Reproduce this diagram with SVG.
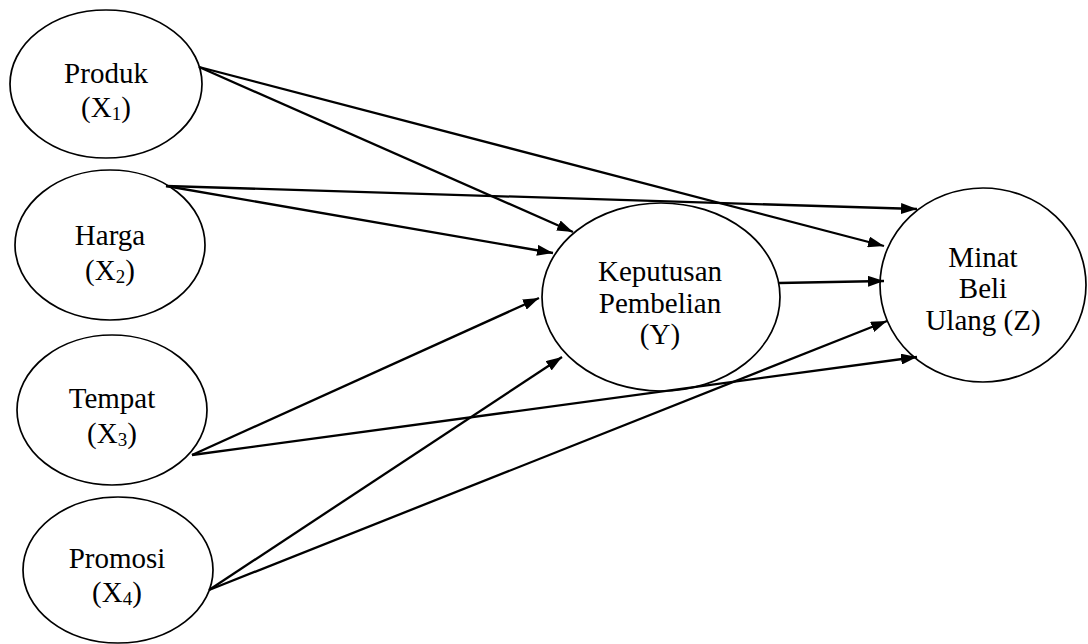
<svg xmlns="http://www.w3.org/2000/svg" width="1088" height="644" viewBox="0 0 1088 644">
<style>
.node ellipse{fill:#fff;stroke:#000;stroke-width:1.7}
.node text{font-family:"Liberation Serif","Times New Roman",serif;font-size:29px;fill:#000;text-anchor:middle}
.sub{font-size:19px}
#connectors line{stroke:#000;stroke-width:2.3;marker-end:url(#arr)}
</style>
<defs>
<marker id="arr" viewBox="0 0 16 11" refX="16" refY="5.5" markerWidth="16" markerHeight="11" markerUnits="userSpaceOnUse" orient="auto">
<path d="M0,0 L16,5.5 L0,11 Z" fill="#000"/>
</marker>
</defs>
<rect width="1088" height="644" fill="#fff"/>
<g id="n-produk" class="node">
<ellipse cx="106" cy="84" rx="96" ry="74"/>
<text x="106" y="83">Produk</text>
<text x="106" y="117">(X<tspan class="sub" dy="3">1</tspan><tspan dy="-3">)</tspan></text>
</g>
<g id="n-harga" class="node">
<ellipse cx="110" cy="245" rx="95" ry="75"/>
<text x="110" y="245">Harga</text>
<text x="110" y="280">(X<tspan class="sub" dy="3">2</tspan><tspan dy="-3">)</tspan></text>
</g>
<g id="n-tempat" class="node">
<ellipse cx="112" cy="410" rx="95" ry="75"/>
<text x="112" y="408">Tempat</text>
<text x="112" y="443">(X<tspan class="sub" dy="3">3</tspan><tspan dy="-3">)</tspan></text>
</g>
<g id="n-promosi" class="node">
<ellipse cx="118" cy="570" rx="95" ry="73"/>
<text x="117" y="568">Promosi</text>
<text x="117" y="602">(X<tspan class="sub" dy="3">4</tspan><tspan dy="-3">)</tspan></text>
</g>
<g id="n-keputusan" class="node">
<ellipse cx="661" cy="297" rx="119" ry="94"/>
<text x="660" y="281">Keputusan</text>
<text x="660" y="313">Pembelian</text>
<text x="660" y="344">(Y)</text>
</g>
<g id="n-minat" class="node">
<ellipse cx="983" cy="285" rx="103" ry="97"/>
<text x="983" y="267">Minat</text>
<text x="983" y="298">Beli</text>
<text x="983" y="330">Ulang (Z)</text>
</g>
<g id="connectors">
<line x1="199" y1="67" x2="573" y2="232"/>
<line x1="199" y1="67" x2="884" y2="246"/>
<line x1="166" y1="186" x2="917" y2="209"/>
<line x1="166" y1="186" x2="553" y2="253"/>
<line x1="192" y1="455" x2="539" y2="298"/>
<line x1="192" y1="455" x2="917" y2="357"/>
<line x1="209" y1="590" x2="562" y2="357"/>
<line x1="209" y1="590" x2="887" y2="321"/>
<line x1="779" y1="283" x2="884" y2="281"/>
</g>
</svg>
